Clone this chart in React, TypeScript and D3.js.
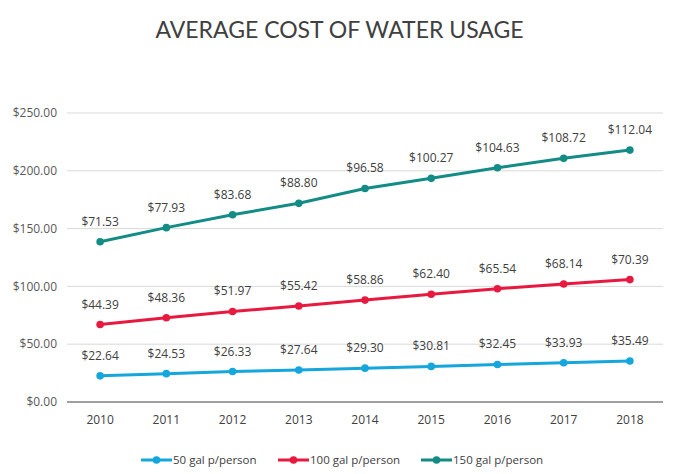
import { useEffect, useRef } from 'react'
import * as d3 from 'd3'

const YEARS = ['2010', '2011', '2012', '2013', '2014', '2015', '2016', '2017', '2018']
const GAL50 = [22.64, 24.53, 26.33, 27.64, 29.3, 30.81, 32.45, 33.93, 35.49]
const GAL100 = [44.39, 48.36, 51.97, 55.42, 58.86, 62.4, 65.54, 68.14, 70.39]
const GAL150 = [71.53, 77.93, 83.68, 88.8, 96.58, 100.27, 104.63, 108.72, 112.04]
const SERIES_NAMES = ['50 gal p/person', '100 gal p/person', '150 gal p/person']
const Y_TICKS = [0, 50, 100, 150, 200, 250]
const COLORS = ['#16a6de', '#e8193f', '#138c86']

const W = 679
const H = 474
const MARGIN = { top: 113, right: 16, bottom: 72, left: 67 }
const FONT = '"Open Sans", "Noto Sans", sans-serif'

export default function App() {
  const svgRef = useRef<SVGSVGElement>(null)

  useEffect(() => {
    const svg = d3.select(svgRef.current)
    svg.selectAll('*').remove()

    const innerW = W - MARGIN.left - MARGIN.right
    const innerH = H - MARGIN.top - MARGIN.bottom

    // lines are stacked: each series sits on top of the ones below
    const rows = YEARS.map((y, i) => ({ year: y, a: GAL50[i], b: GAL100[i], c: GAL150[i] }))
    const stacked = d3.stack<any>().keys(['a', 'b', 'c'])(rows)

    const x = d3.scaleBand().domain(YEARS).range([0, innerW])
    const y = d3.scaleLinear().domain([0, 250]).range([innerH, 0])
    const cx = (yr: string) => x(yr)! + x.bandwidth() / 2

    // title
    svg.append('text')
      .attr('x', W / 2).attr('y', 38)
      .attr('text-anchor', 'middle')
      .attr('font-family', '"Lato", "Open Sans", sans-serif')
      .attr('font-size', 23).attr('fill', '#404040')
      .text('AVERAGE COST OF WATER USAGE')

    const g = svg.append('g').attr('transform', `translate(${MARGIN.left},${MARGIN.top})`)

    // grid + y labels
    Y_TICKS.forEach(t => {
      g.append('line')
        .attr('x1', 0).attr('x2', innerW)
        .attr('y1', y(t)).attr('y2', y(t))
        .attr('stroke', t === 0 ? '#404040' : '#d9d9d9').attr('stroke-width', 1)
      g.append('text')
        .attr('x', -10).attr('y', y(t)).attr('dy', '0.35em')
        .attr('text-anchor', 'end')
        .attr('font-family', FONT).attr('font-size', 12).attr('fill', '#595959')
        .text(`$${t.toFixed(2)}`)
    })

    YEARS.forEach(yr => {
      g.append('text')
        .attr('x', cx(yr)).attr('y', innerH + 22)
        .attr('text-anchor', 'middle')
        .attr('font-family', FONT).attr('font-size', 12).attr('fill', '#404040')
        .text(yr)
    })

    const line = d3.line<any>()
      .x(d => cx(d.data.year))
      .y(d => y(d[1]))

    const raw = [GAL50, GAL100, GAL150]
    stacked.forEach((s, si) => {
      g.append('path')
        .datum(s)
        .attr('d', line)
        .attr('fill', 'none')
        .attr('stroke', COLORS[si]).attr('stroke-width', 3)
      s.forEach((d: any, i: number) => {
        g.append('circle')
          .attr('cx', cx(d.data.year)).attr('cy', y(d[1]))
          .attr('r', 3.8).attr('fill', COLORS[si])
        g.append('text')
          .attr('x', cx(d.data.year)).attr('y', y(d[1]) - 16)
          .attr('text-anchor', 'middle')
          .attr('font-family', FONT).attr('font-size', 12).attr('fill', '#404040')
          .text(`$${raw[si][i].toFixed(2)}`)
      })
    })

    // legend
    const legendX = [141, 278, 421]
    SERIES_NAMES.forEach((name, i) => {
      const lg = svg.append('g').attr('transform', `translate(${legendX[i]},460)`)
      lg.append('line').attr('x1', 0).attr('x2', 31)
        .attr('stroke', COLORS[i]).attr('stroke-width', 3)
      lg.append('circle').attr('cx', 15.5).attr('r', 3.8).attr('fill', COLORS[i])
      lg.append('text')
        .attr('x', 32).attr('dy', '0.35em')
        .attr('font-family', FONT).attr('font-size', 11.5).attr('fill', '#404040')
        .text(name)
    })
  }, [])

  return (
    <svg ref={svgRef} width={W} height={H}
      style={{ position: 'absolute', left: 0, top: 0, background: '#fff' }} />
  )
}
